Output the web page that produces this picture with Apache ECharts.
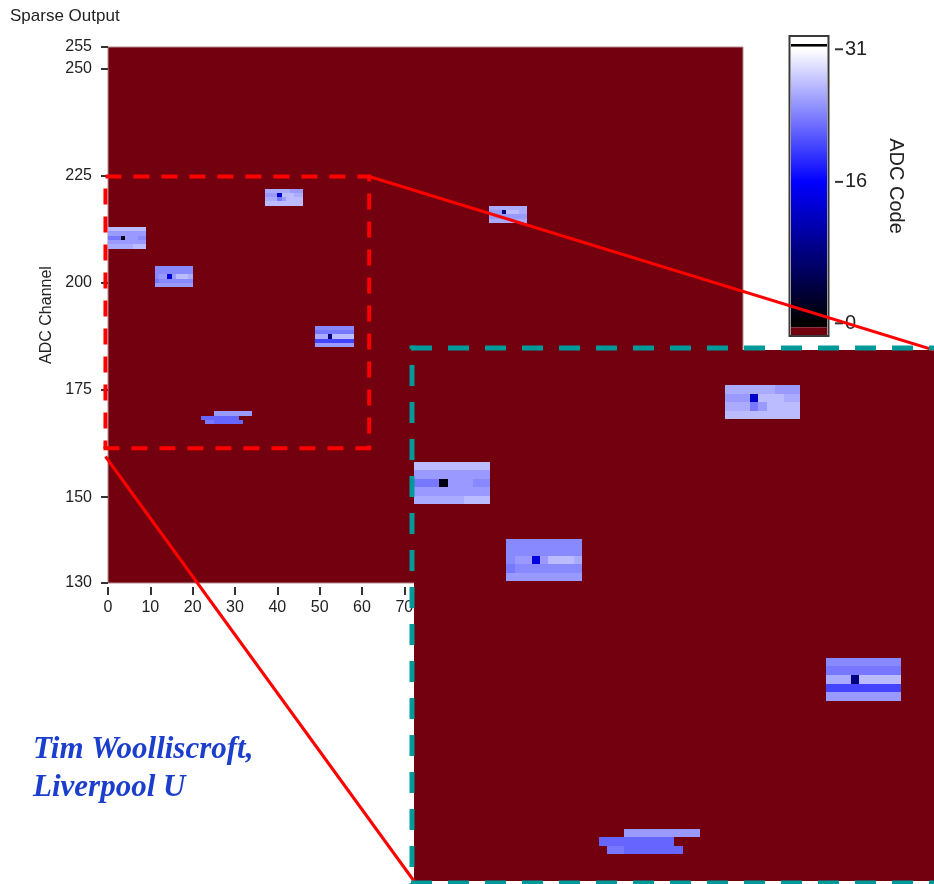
<!DOCTYPE html>
<html>
<head>
<meta charset="utf-8">
<title>Sparse Output</title>
<script src="https://cdn.jsdelivr.net/npm/echarts@6.0.0/dist/echarts.min.js"></script>
<style>
  html, body { margin: 0; padding: 0; background: #ffffff; }
  #chart { width: 934px; height: 884px; }
</style>
</head>
<body>
<div id="chart"></div>
<script>
// ---- axis ticks ----
const stripTicks = [0, 10, 20, 30, 40, 50, 60, 70, 80, 90, 100, 110, 120, 130, 140, 150];
const channelTicks = [130, 150, 175, 200, 225, 250, 255];
const codeTicks = [0, 16, 31];

// ---- hit clusters: [ADC channel, first strip, ADC codes of consecutive strips] ----
const clusterA = [
  [212, 0, [27, 27, 27, 27, 27, 27, 27, 27, 27]],
  [211, 0, [25, 25, 25, 25, 25, 25, 25, 25, 25]],
  [210, 0, [23, 23, 23, 1, 25, 25, 25, 24, 24]],
  [209, 0, [25, 25, 25, 25, 25, 25, 25, 25, 25]],
  [208, 0, [26, 26, 26, 26, 26, 26, 27, 27, 27]]
];
const clusterB = [
  [203, 11, [24, 24, 24, 24, 24, 24, 24, 24, 24]],
  [202, 11, [24, 24, 24, 24, 24, 24, 24, 24, 24]],
  [201, 11, [24, 25, 25, 14, 25, 27, 27, 27, 26]],
  [200, 11, [23, 24, 24, 24, 24, 24, 24, 24, 24]],
  [199, 11, [25, 25, 25, 25, 25, 25, 25, 25, 25]]
];
const clusterC = [
  [221, 37, [26, 26, 26, 26, 26, 26, 25, 25, 25]],
  [220, 37, [25, 25, 25, 13, 27, 27, 27, 26, 26]],
  [219, 37, [26, 26, 26, 23, 25, 27, 27, 27, 27]],
  [218, 37, [27, 27, 27, 27, 27, 27, 27, 27, 27]]
];
const clusterD = [
  [189, 49, [24, 24, 24, 24, 24, 24, 24, 24, 24]],
  [188, 49, [23, 23, 23, 23, 23, 23, 23, 23, 23]],
  [187, 49, [26, 26, 26, 8, 27, 27, 27, 27, 27]],
  [186, 49, [20, 20, 20, 20, 20, 20, 20, 20, 20]],
  [185, 49, [25, 25, 25, 25, 25, 25, 25, 25, 25]]
];
const clusterE = [
  [169, 25, [25, 25, 25, 25, 25, 25, 25, 25, 25]],
  [168, 22, [22, 22, 22, 22, 22, 22, 22, 22, 22]],
  [167, 23, [23, 23, 22, 22, 22, 22, 22, 22, 22]]
];
const clusterF = [
  [217, 90, [26, 26, 26, 26, 26, 26, 26, 26, 26]],
  [216, 90, [25, 25, 25, 8, 27, 27, 27, 26, 26]],
  [215, 90, [25, 25, 25, 25, 25, 25, 25, 25, 25]],
  [214, 90, [26, 26, 26, 26, 26, 26, 26, 26, 26]]
];

// framed region on the full map, and the window shown in the magnified view
const zoomFrame = { strips: [-0.6, 61.7], channels: [161.4, 224.8] };
const insetView = { strips: [0, 61.9], channels: [163.85, 226.1] };
// connector start points (strip, channel) on the full map
const linkStarts = [[61.7, 224.8], [-0.6, 159.5]];

// ---- one [strip, channel, code] entry per pixel ----
const cells = [];
[clusterA, clusterB, clusterC, clusterD, clusterE, clusterF].forEach(rows => {
  rows.forEach(([channel, first, codes]) => {
    codes.forEach((code, i) => cells.push([first + i, channel, code]));
  });
});

// colour ramp: black at code 0, pure blue at 16, white at 31
const codePalette = [];
for (let k = 0; k <= 31; k++) {
  let r, g, b;
  if (k <= 16) { r = 0; g = 0; b = Math.round(255 * k / 16); }
  else { const t = Math.round(255 * (k - 16) / 15); r = t; g = t; b = 255; }
  codePalette.push('rgb(' + r + ',' + g + ',' + b + ')');
}

const FONT = '"Liberation Sans", Arial, sans-serif';
const UNDER = '#72000e';      // below-range colour (empty pixels)
const INK = '#222222';
const TICK = { color: '#333333', width: 2 };

// pixel cells snapped to whole device pixels so neighbours butt without seams
function renderCell(params, api) {
  const x = api.value(0), y = api.value(1);
  const p0 = api.coord([x, y + 1]);
  const p1 = api.coord([x + 1, y]);
  const x0 = Math.round(p0[0]), y0 = Math.round(p0[1]);
  const x1 = Math.round(p1[0]), y1 = Math.round(p1[1]);
  return {
    type: 'rect',
    shape: { x: x0, y: y0, width: x1 - x0, height: y1 - y0 },
    style: { fill: api.visual('color'), stroke: null }
  };
}

// colour scale bar: above-range box, ramp, below-range box, tick marks
const scaleTop = 32.39, scaleBottom = -1.32;
const rampTop = 31.3, rampBottom = -0.45;
const scaleTickGap = 8, scaleTickLen = 8;
function renderScale(params, api) {
  const x0 = api.coord([0, 0])[0], x1 = api.coord([1, 0])[0];
  const yAt = v => api.coord([0, v])[1];
  const w = x1 - x0;
  const band = (v0, v1, fill) => ({
    type: 'rect',
    shape: { x: x0, y: yAt(v1), width: w, height: yAt(v0) - yAt(v1) },
    style: { fill: fill }
  });
  const off = v => (rampTop - v) / (rampTop - rampBottom);
  const stops = [{ offset: 0, color: codePalette[31] }];
  for (let k = 31; k >= 0; k--) stops.push({ offset: off(k), color: codePalette[k] });
  stops.push({ offset: 1, color: codePalette[0] });
  const ticks = codeTicks.map(v => ({
    type: 'line',
    shape: { x1: x1 + scaleTickGap, y1: yAt(v), x2: x1 + scaleTickGap + scaleTickLen, y2: yAt(v) },
    style: { stroke: TICK.color, lineWidth: TICK.width }
  }));
  return {
    type: 'group',
    children: [
      band(31.6, scaleTop, '#ffffff'),
      band(rampTop, 31.6, '#000000'),
      band(rampBottom, rampTop, { type: 'linear', x: 0, y: 0, x2: 0, y2: 1, colorStops: stops }),
      band(scaleBottom, rampBottom, UNDER),
      {
        type: 'rect',
        shape: { x: x0 - 1.5, y: yAt(scaleTop) - 1, width: w + 3, height: yAt(scaleBottom) - yAt(scaleTop) + 2 },
        style: { fill: null, stroke: '#3a3a3a', lineWidth: 2 }
      }
    ].concat(ticks)
  };
}

const chart = echarts.init(document.getElementById('chart'), null, { renderer: 'canvas' });

const option = {
  animation: false,
  backgroundColor: '#ffffff',
  textStyle: { fontFamily: FONT },
  title: {
    text: 'Sparse Output', left: 10, top: 8, padding: 0,
    textStyle: { fontSize: 17, fontWeight: 'normal', color: INK, fontFamily: FONT }
  },
  grid: [
    { left: 108, top: 47, width: 635, height: 536, show: true, backgroundColor: UNDER,
      borderColor: '#b48c90', borderWidth: 1, containLabel: false, outerBoundsMode: 'none', z: 0 },
    { left: 414, top: 350, width: 520, height: 531, show: true, backgroundColor: UNDER,
      borderWidth: 0, containLabel: false, outerBoundsMode: 'none', z: 5 },
    { left: 791, top: 37, width: 36, height: 298, show: false, containLabel: false, outerBoundsMode: 'none' }
  ],
  xAxis: [
    { gridIndex: 0, type: 'value', min: 0, max: 150, interval: 10, offset: 4,
      axisLine: { show: false },
      axisTick: { show: true, length: 8, customValues: stripTicks, lineStyle: TICK },
      axisLabel: { customValues: stripTicks, margin: 13, fontSize: 16, color: INK, fontFamily: FONT },
      splitLine: { show: false } },
    { gridIndex: 1, type: 'value', min: insetView.strips[0], max: insetView.strips[1], show: false },
    { gridIndex: 2, type: 'value', min: 0, max: 1, show: false }
  ],
  yAxis: [
    { gridIndex: 0, type: 'value', min: 130, max: 255, offset: 4,
      name: 'ADC Channel', nameLocation: 'middle', nameGap: 43,
      nameTextStyle: { fontSize: 16, color: INK, fontFamily: FONT },
      axisLine: { show: false },
      axisTick: { show: true, length: 7, customValues: channelTicks, lineStyle: TICK },
      axisLabel: { customValues: channelTicks, margin: 12, fontSize: 16, color: INK, fontFamily: FONT },
      splitLine: { show: false } },
    { gridIndex: 1, type: 'value', min: insetView.channels[0], max: insetView.channels[1], show: false },
    { gridIndex: 2, type: 'value', position: 'right', min: scaleBottom, max: scaleTop, offset: scaleTickGap,
      name: 'ADC Code', nameLocation: 'middle', nameRotate: -90, nameGap: 51,
      nameTextStyle: { fontSize: 20, color: INK, fontFamily: FONT },
      axisLine: { show: false },
      axisTick: { show: true, length: scaleTickLen, customValues: codeTicks, lineStyle: TICK },
      axisLabel: { customValues: codeTicks, margin: 10, fontSize: 20, color: INK, fontFamily: FONT },
      splitLine: { show: false } }
  ],
  visualMap: {
    type: 'continuous', show: false, min: 0, max: 31, dimension: 2, seriesIndex: [0, 1],
    inRange: { color: codePalette }
  },
  series: [
    { type: 'custom', name: 'Sparse Output', xAxisIndex: 0, yAxisIndex: 0, data: cells,
      encode: { x: 0, y: 1 }, renderItem: renderCell, clip: true, z: 2, silent: true },
    { type: 'custom', name: 'Sparse Output (detail)', xAxisIndex: 1, yAxisIndex: 1, data: cells,
      encode: { x: 0, y: 1 }, renderItem: renderCell, clip: true, z: 6, silent: true },
    { type: 'custom', name: 'ADC Code', xAxisIndex: 2, yAxisIndex: 2, data: [[0, 0]],
      renderItem: renderScale, z: 3, silent: true }
  ]
};

chart.setOption(option);

// ---- frame, connectors and detail border, placed from axis coordinates ----
const px = (gridIndex, pt) => chart.convertToPixel({ gridIndex: gridIndex }, pt);
const fTL = px(0, [zoomFrame.strips[0], zoomFrame.channels[1]]);
const fBR = px(0, [zoomFrame.strips[1], zoomFrame.channels[0]]);
const iTL = px(1, [insetView.strips[0], insetView.channels[1]]);
const iBR = px(1, [insetView.strips[1], insetView.channels[0]]);
const s1 = px(0, linkStarts[0]);
const s2 = px(0, linkStarts[1]);

const seg = (x1, y1, x2, y2, stroke, width, dash, offset) => ({
  type: 'line', silent: true, z: 100,
  shape: { x1: x1, y1: y1, x2: x2, y2: y2 },
  style: { stroke: stroke, lineWidth: width, lineDash: dash, lineDashOffset: offset || 0 }
});
const RED = '#ff0000', TEAL = '#009a9a';
const redDash = [16, 12], tealDash = [21, 16];
const ix = iTL[0] - 2, iy0 = iTL[1] - 2, iy1 = iBR[1] + 2, ixr = iBR[0] + 6;

chart.setOption({
  graphic: [
    seg(fTL[0], fTL[1], fBR[0] + 2, fTL[1], RED, 4, redDash, 0),
    seg(fTL[0], fTL[1], fTL[0], fBR[1], RED, 4, redDash, 16),
    seg(fTL[0] - 2, fBR[1], fBR[0] + 2, fBR[1], RED, 4, redDash, 0),
    seg(fBR[0], fTL[1], fBR[0], fBR[1], RED, 4, redDash, 11),
    seg(s1[0], s1[1], iBR[0], iTL[1], RED, 3, null),
    seg(s2[0], s2[1], iTL[0], iBR[1], RED, 3, null),
    seg(ix - 1, iy0, ixr, iy0, TEAL, 5, tealDash, 0),
    seg(ix, iy0 - 2.5, ix, iy1 + 2.5, TEAL, 5, tealDash, 17.5),
    seg(ix - 1, iy1, ixr, iy1, TEAL, 5, tealDash, 0),
    {
      type: 'text', silent: true, z: 100, x: 33, y: 731,
      style: {
        text: 'Tim Woolliscroft,\nLiverpool U',
        fill: '#1b3fcc',
        fontFamily: '"Liberation Serif", "Times New Roman", serif',
        fontSize: 31, fontWeight: 'bold', fontStyle: 'italic',
        lineHeight: 38, align: 'left', verticalAlign: 'top'
      }
    }
  ]
});
</script>
</body>
</html>
